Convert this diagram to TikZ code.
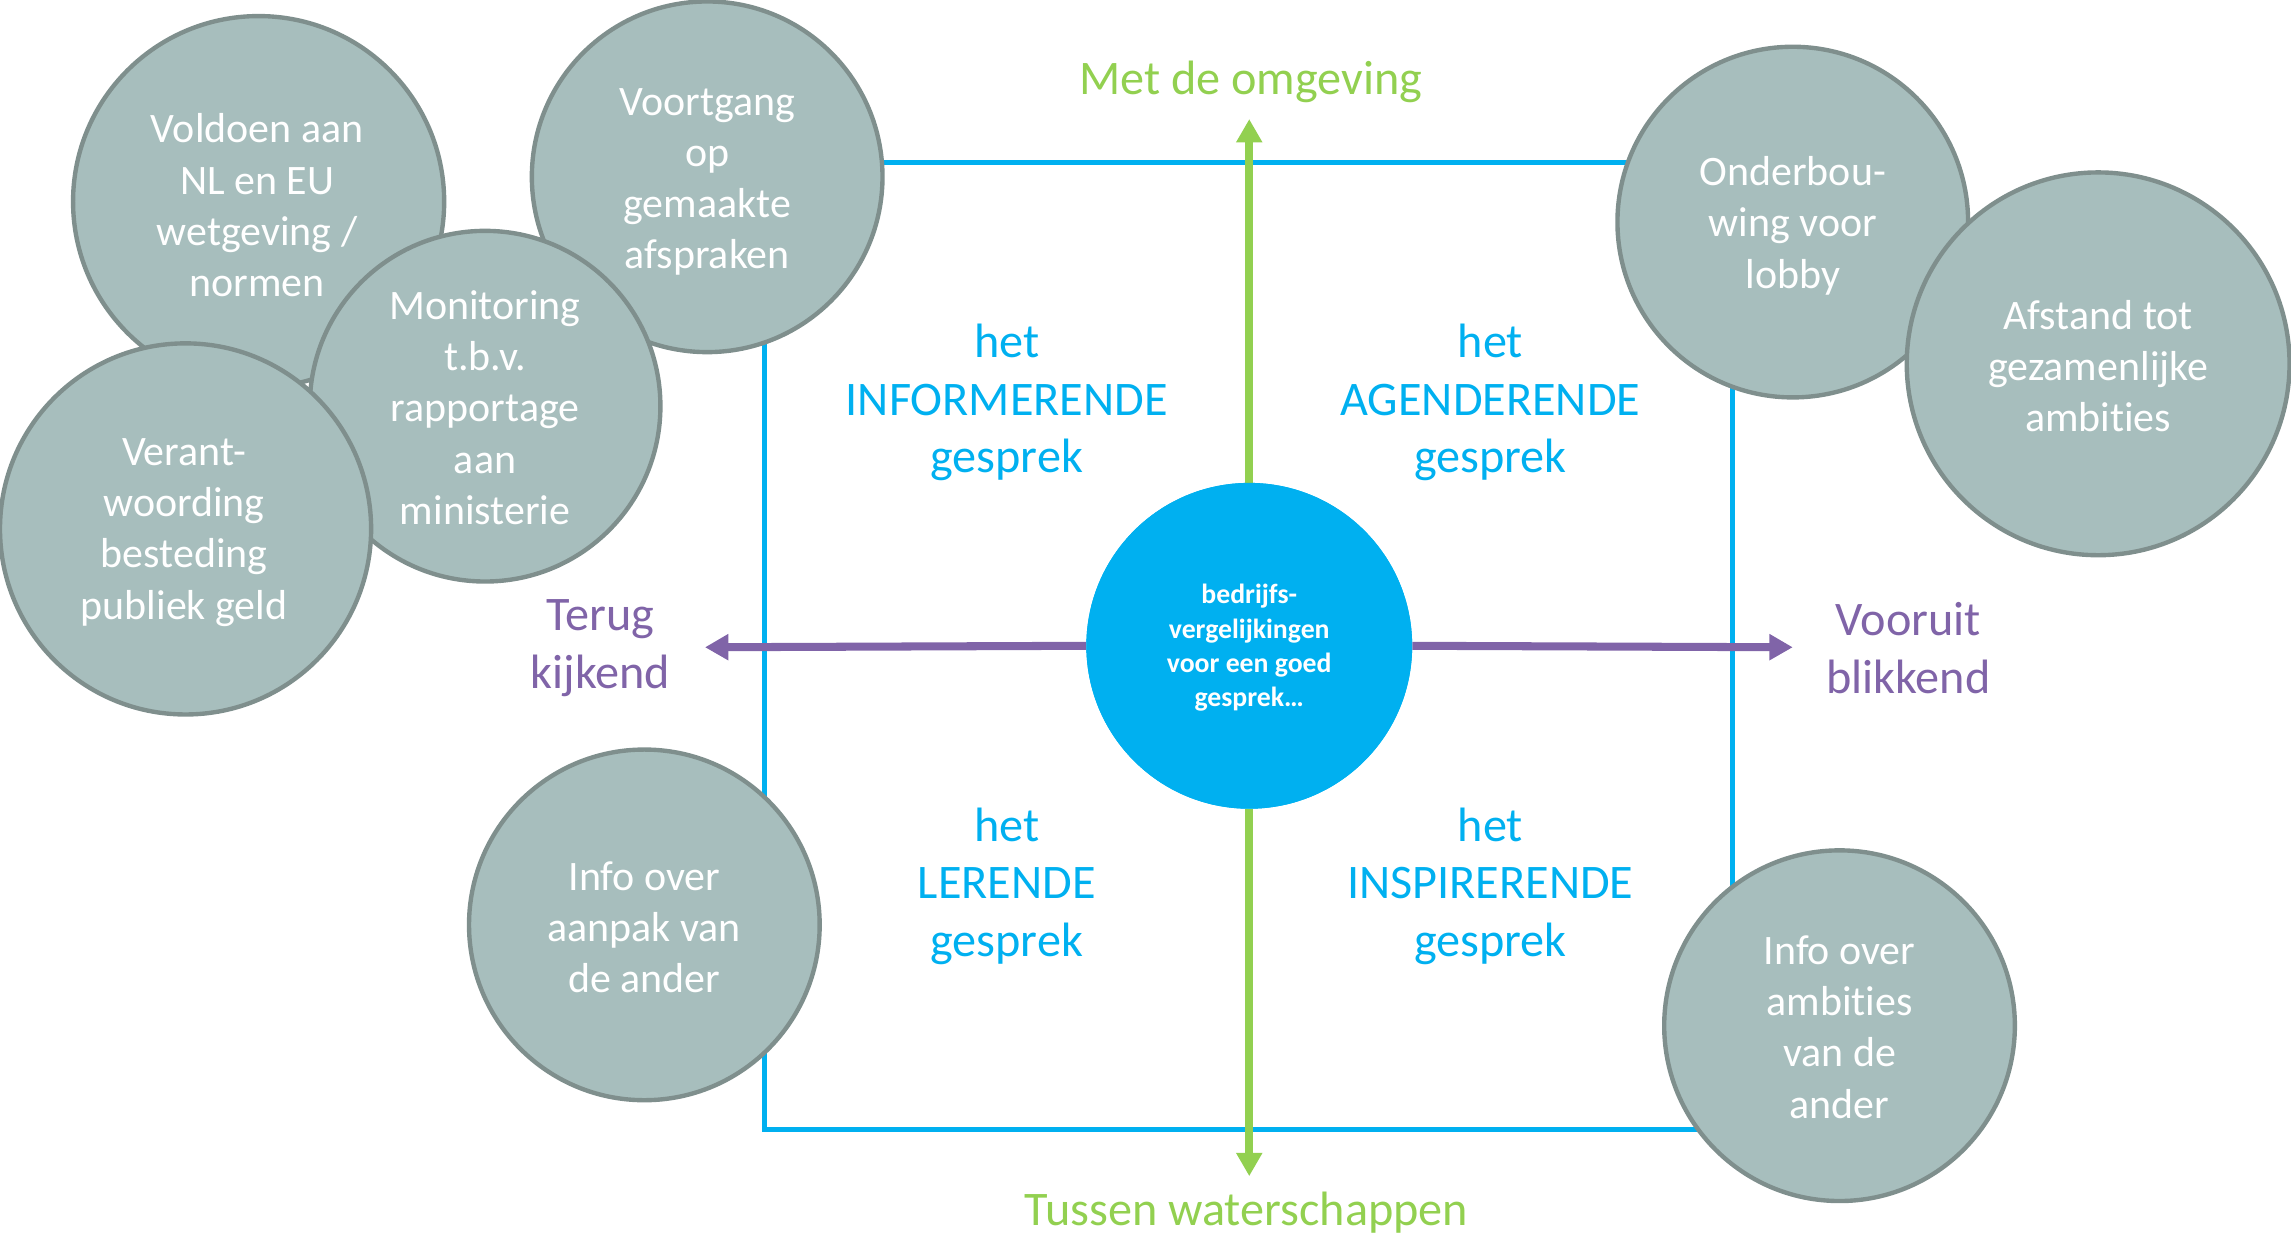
\documentclass[tikz,border=0pt]{standalone}
\usepackage{fontspec}
\setmainfont[Ligatures={NoCommon}]{Carlito}
\usetikzlibrary{arrows.meta}
\definecolor{cblue}{HTML}{00B0F0}
\definecolor{cgreen}{HTML}{92D050}
\definecolor{cpurple}{HTML}{8064A8}
\definecolor{cgfill}{RGB}{167,190,189}
\definecolor{cgline}{RGB}{127,143,141}
\tikzset{
  bubble/.style={circle,fill=cgfill,draw=cgline,line width=3pt,inner sep=0pt,minimum size=#1},
  btext/.style={text=white,align=center,inner sep=0pt,font=\fontsize{28.7}{35}\selectfont},
  qtext/.style={text=cblue,align=center,inner sep=0pt,font=\fontsize{33}{39.5}\selectfont},
  gtext/.style={text=cgreen,align=center,inner sep=0pt,font=\fontsize{33}{40}\selectfont},
  ptext/.style={text=cpurple,align=center,inner sep=0pt,font=\fontsize{33}{40}\selectfont},
  garrow/.style={draw=cgreen,line width=5.5pt,-{Triangle[length=16pt,width=17pt]}},
  parrow/.style={draw=cpurple,line width=5.5pt,-{Triangle[length=16pt,width=17pt]}},
}
\begin{document}
\begin{tikzpicture}[x=1pt,y=-1pt]
\useasboundingbox (0,0) rectangle (1568,848);
% frame
\draw[cblue,line width=3.4pt] (523,111) rectangle (1186,773);
% center
\coordinate (gtop) at (855,81.5);
\coordinate (gbot) at (855,805);
\coordinate (pleft) at (482.5,443);
\coordinate (pright) at (1227,443);
\node[circle,fill=cblue,inner sep=0pt,minimum size=223pt] (c) at (855,442) {};
\draw[garrow] (c.north) -- (gtop);
\draw[garrow] (c.south) -- (gbot);
\draw[parrow] (c.west) -- (pleft);
\draw[parrow] (c.east) -- (pright);
\node[circle,fill=cblue,inner sep=0pt,minimum size=223pt] at (c) {};
\node[text=white,align=center,inner sep=0pt,font=\bfseries\fontsize{19}{23.5}\selectfont] (ct) at (855,443.5) {bedrijfs-\\vergelijkingen\\voor een goed\\gesprek\ldots};
% bubbles
\node[bubble=254pt] (b1) at (177,138) {};
\node[bubble=240pt] (b2) at (484,121) {};
\node[bubble=240pt] (b3) at (332,278) {};
\node[bubble=254pt] (b4) at (127,362) {};
\node[bubble=240pt] (b5) at (441,633) {};
\node[bubble=240pt] (b6) at (1227,152) {};
\node[bubble=262pt] (b7) at (1436,249) {};
\node[bubble=240pt] (b8) at (1259,702) {};
\node[btext] (t1) at (176,140.5) {Voldoen aan\\NL en EU\\wetgeving /\\normen};
\node[btext] (t2) at (484,124.5) {Voortgang\\op\\gemaakte\\afspraken};
\node[btext] (t3) at (332,279) {Monitoring\\t.b.v.\\rapportage\\aan\\ministerie};
\node[btext] (t4) at (126,364.5) {Verant-\\woording\\besteding\\publiek geld};
\node[btext] (t5) at (441,634.5) {Info over\\aanpak van\\de ander};
\node[btext] (t6) at (1227,154.5) {Onderbou-\\wing voor\\lobby};
\node[btext] (t7) at (1436,250.5) {Afstand tot\\gezamenlijke\\ambities};
\node[btext] (t8) at (1259,703) {Info over\\ambities\\van de\\ander};
% quadrant labels
\node[qtext] (q1) at (689,275.5) {het\\INFORMERENDE\\gesprek};
\node[qtext] (q2) at (1020,275.5) {het\\AGENDERENDE\\gesprek};
\node[qtext] (q3) at (689,606.5) {het\\LERENDE\\gesprek};
\node[qtext] (q4) at (1020,606.5) {het\\INSPIRERENDE\\gesprek};
% axis labels
\node[gtext] (a1) at (856,56) {Met de omgeving};
\node[gtext] (a2) at (853,830) {Tussen waterschappen};
\node[ptext] (a3) at (411,443.5) {Terug\\kijkend};
\node[ptext] (a4) at (1306,443.5) {Vooruit\\blikkend};
\end{tikzpicture}
\end{document}
